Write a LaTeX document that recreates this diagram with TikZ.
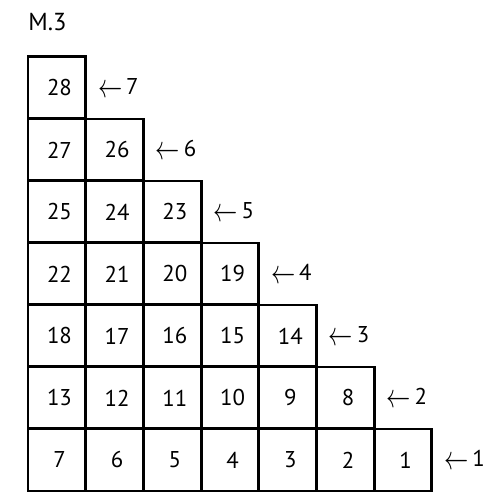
\documentclass[tikz,border=0pt]{standalone}
\usepackage{fontspec}
\setmainfont{PT Sans}
\usetikzlibrary{positioning}

\tikzset{
  cell/.style={draw=black,line width=1.7pt,minimum width=1.154cm,minimum height=1.24cm,inner sep=0pt,font=\fontsize{13}{15}\selectfont},
  rowlabel/.style={anchor=west,inner sep=0pt,font=\fontsize{13}{15}\selectfont}
}
\newcommand{\larr}{\raisebox{-1.6pt}{\scalebox{1.15}[1.6]{$\leftarrow$}}}

\begin{document}
\begin{tikzpicture}[x=0.02cm,y=0.02cm]
\useasboundingbox (0,0) rectangle (500,502);
\node[anchor=west,inner sep=0pt,font=\fontsize{14}{16}\selectfont] (title) at (28,480) {M.3};
% rows from the bottom, numbered right to left
\foreach \r in {0,...,6}{
  \pgfmathtruncatemacro{\last}{6-\r}
  \pgfmathtruncatemacro{\offs}{7*\r-\r*(\r-1)/2}
  \foreach \c in {0,...,\last}{
    \pgfmathtruncatemacro{\val}{\offs+7-\r-\c}
    \node[cell] (c-\r-\c) at (56.85+57.7*\c,42+62*\r) {\hspace{3pt}\raisebox{-2pt}{\val}};
  }
  \pgfmathtruncatemacro{\lab}{\r+1}
  \node[rowlabel,right=6pt of c-\r-\last.east,anchor=west] (l-\r) {\larr\,\lab};
}
\end{tikzpicture}
\end{document}
